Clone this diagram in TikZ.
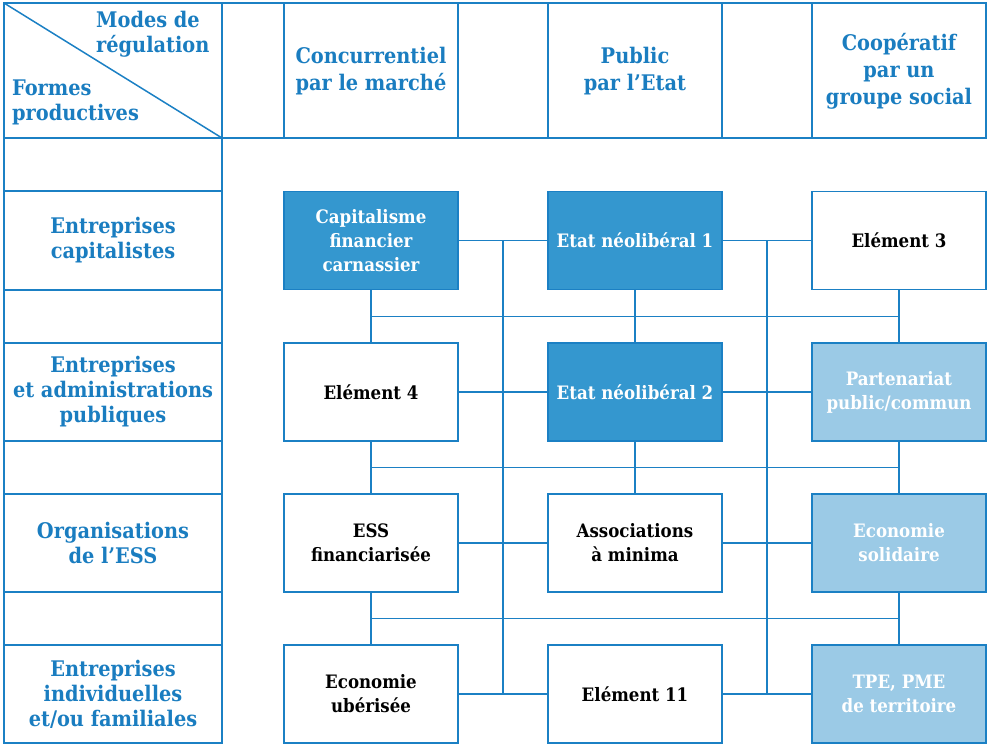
\documentclass[tikz,border=0pt]{standalone}
\usepackage{fontspec}
\IfFontExistsTF{DejaVu Serif Condensed}{\setmainfont{DejaVu Serif Condensed}}{\setmainfont{DejaVu Serif}}
\usepackage{tikz}
\usetikzlibrary{calc}

\definecolor{lineblue}{HTML}{1B80C4}
\definecolor{headblue}{HTML}{1A7DC0}
\definecolor{darkfill}{HTML}{3497CF}
\definecolor{lightfill}{HTML}{9BCAE6}

\tikzset{
  grid/.style={draw=lineblue, line width=1.5pt},
  link/.style={draw=lineblue, line width=1.4pt},
  cell/.style={draw=lineblue, line width=1.7pt, minimum width=174pt,
    minimum height=98pt, inner sep=2pt, align=center,
    font=\bfseries\fontsize{18.5}{24}\selectfont},
  darkcell/.style={cell, fill=darkfill, text=white},
  lightcell/.style={cell, fill=lightfill, text=white},
  plaincell/.style={cell, fill=white, text=black},
  headtext/.style={text=headblue, inner sep=0pt,
    font=\bfseries\fontsize{21.5}{25}\selectfont},
  colhead/.style={headtext, align=center,
    font=\bfseries\fontsize{21.5}{27}\selectfont},
}

\begin{document}
\begin{tikzpicture}[x=1pt, y=-1pt]

  \useasboundingbox (0,0) rectangle (988,745);

  \newcommand\XL{113}
  \newcommand\XA{371}
  \newcommand\XB{635}
  \newcommand\XC{899}
  \newcommand\YA{240.5}
  \newcommand\YB{392}
  \newcommand\YC{543}
  \newcommand\YD{694}

  % header
  \draw[grid] (4,3) rectangle (986,138);
  \foreach \x in {222,284,458,548,722,812}
    \draw[grid] (\x,3) -- (\x,138);
  \draw[grid] (4,3) -- (222,138);

  \node[headtext, anchor=west, align=left] (modes) at (96,34)
    {Modes de\\régulation};
  \node[headtext, anchor=west, align=left] (formes) at (12,102)
    {Formes\\productives};
  \node[colhead] (hA) at (\XA,71) {Concurrentiel\\par le marché};
  \node[colhead] (hB) at (\XB,71) {Public\\par l’Etat};
  \node[colhead] (hC) at (\XC,71) {Coopératif\\par un\\groupe social};

  % left column
  \draw[grid] (4,138) rectangle (222,743);
  \foreach \y in {191,290,343,441,494,592,645}
    \draw[grid] (4,\y) -- (222,\y);

  \node[headtext, align=center] (f1) at (\XL,\YA) {Entreprises\\capitalistes};
  \node[headtext, align=center] (f2) at (\XL,\YB)
    {Entreprises\\et administrations\\publiques};
  \node[headtext, align=center] (f3) at (\XL,\YC) {Organisations\\de l’ESS};
  \node[headtext, align=center] (f4) at (\XL,\YD)
    {Entreprises\\individuelles\\et/ou familiales};

  % boxes
  \node[darkcell] (A1) at (\XA,\YA) {Capitalisme\\financier\\carnassier};
  \node[darkcell] (B1) at (\XB,\YA) {Etat néolibéral 1};
  \node[plaincell] (C1) at (\XC,\YA) {Elément 3};

  \node[plaincell] (A2) at (\XA,\YB) {Elément 4};
  \node[darkcell] (B2) at (\XB,\YB) {Etat néolibéral 2};
  \node[lightcell] (C2) at (\XC,\YB) {Partenariat\\public/commun};

  \node[plaincell] (A3) at (\XA,\YC) {ESS\\financiarisée};
  \node[plaincell] (B3) at (\XB,\YC) {Associations\\à minima};
  \node[lightcell] (C3) at (\XC,\YC) {Economie\\solidaire};

  \node[plaincell] (A4) at (\XA,\YD) {Economie\\ubérisée};
  \node[plaincell] (B4) at (\XB,\YD) {Elément 11};
  \node[lightcell] (C4) at (\XC,\YD) {TPE, PME\\de territoire};

  % connectors
  \foreach \r in {1,2,3,4} {
    \draw[link] (A\r.east) -- (B\r.west);
    \draw[link] (B\r.east) -- (C\r.west);
  }
  \coordinate (m1) at ($(A1.east)!.5!(B1.west)$);
  \coordinate (m4) at ($(A4.east)!.5!(B4.west)$);
  \coordinate (n1) at ($(B1.east)!.5!(C1.west)$);
  \coordinate (n4) at ($(B4.east)!.5!(C4.west)$);
  \draw[link] (m1) -- (m4);
  \draw[link] (n1) -- (n4);

  \foreach \r/\s in {1/2,2/3,3/4} {
    \draw[link] (A\r.south) -- (A\s.north);
    \draw[link] (C\r.south) -- (C\s.north);
    \coordinate (gA\r) at ($(A\r.south)!.5!(A\s.north)$);
    \coordinate (gC\r) at ($(C\r.south)!.5!(C\s.north)$);
    \draw[link] (gA\r) -- (gC\r);
  }
  \draw[link] (B1.south) -- (B2.north);
  \draw[link] (B2.south) -- (B3.north);

\end{tikzpicture}
\end{document}
